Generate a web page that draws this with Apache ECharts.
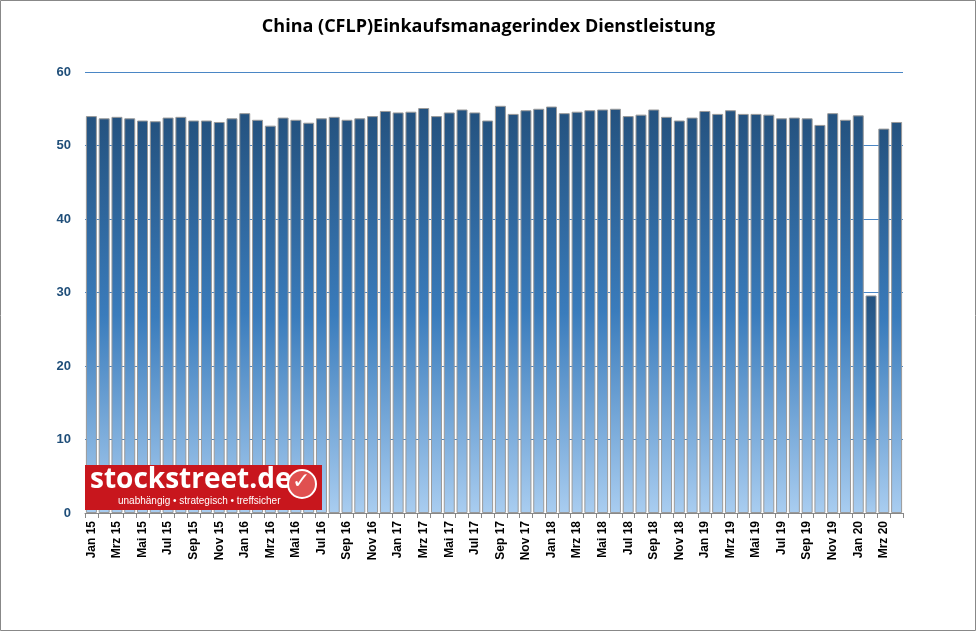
<!DOCTYPE html>
<html><head><meta charset="utf-8">
<script src="https://cdn.jsdelivr.net/npm/echarts@6/dist/echarts.min.js"></script>
<style>html,body{margin:0;padding:0;background:#fff}#c{width:977px;height:632px}</style>
</head><body><div id="c"></div>
<script>
const months = ['Jan','Feb','Mrz','Apr','Mai','Jun','Jul','Aug','Sep','Okt','Nov','Dez'];
const years = ['15','16','17','18','19','20'];
const categories = [];
years.forEach(y => months.forEach(m => categories.push(m + ' ' + y)));
categories.length = 64;
const values = [
  54.0, 53.7, 53.9, 53.7, 53.4, 53.3, 53.8, 53.9, 53.4, 53.4, 53.2, 53.7,
  54.4, 53.5, 52.7, 53.8, 53.5, 53.1, 53.7, 53.9, 53.5, 53.7, 54.0, 54.7,
  54.5, 54.6, 55.1, 54.0, 54.5, 54.9, 54.5, 53.4, 55.4, 54.3, 54.8, 55.0,
  55.3, 54.4, 54.6, 54.8, 54.9, 55.0, 54.0, 54.2, 54.9, 53.9, 53.4, 53.8,
  54.7, 54.3, 54.8, 54.3, 54.3, 54.2, 53.7, 53.8, 53.7, 52.8, 54.4, 53.5,
  54.1, 29.6, 52.3, 53.2
];
const yTicks = [0, 10, 20, 30, 40, 50, 60];

const chart = echarts.init(document.getElementById('c'));
chart.setOption({
  animation: false,
  title: {
    text: 'China (CFLP)Einkaufsmanagerindex Dienstleistung',
    left: 'center', top: 13,
    textStyle: {fontFamily: 'Open Sans', fontSize: 18, fontWeight: 'bold', color: '#000'}
  },
  grid: {left: 85, right: 74, top: 72, bottom: 119},
  xAxis: {
    type: 'category', data: categories,
    axisLine: {lineStyle: {color: '#888'}},
    axisTick: {show: true, interval: 0, lineStyle: {color: '#888'}},
    axisLabel: {
      rotate: 90, interval: 1, fontFamily: 'Liberation Sans', fontSize: 12,
      fontWeight: 'bold', color: '#000'
    }
  },
  yAxis: {
    type: 'value', min: yTicks[0], max: yTicks[yTicks.length - 1], interval: 10,
    axisLine: {show: false}, axisTick: {show: false},
    axisLabel: {fontFamily: 'Liberation Sans', fontSize: 13, fontWeight: 'bold', color: '#1f4e79', margin: 14},
    splitLine: {lineStyle: {color: '#4a86c5', width: 1}}
  },
  series: [{
    type: 'bar', data: values, barCategoryGap: '14%',
    itemStyle: {
      borderColor: '#9a9a9a', borderWidth: 1,
      color: new echarts.graphic.LinearGradient(0, 0, 0, 1, [
        {offset: 0, color: '#24527f'},
        {offset: 0.5, color: '#3a7cbc'},
        {offset: 1, color: '#a9cdf0'}
      ])
    }
  }],
  graphic: [
    {type: 'rect', z: 100, shape: {x: 0.5, y: 0.5, width: 975, height: 630}, style: {fill: 'none', stroke: '#888', lineWidth: 1}},
    {type: 'rect', z: 100, shape: {x: 85, y: 465, width: 237, height: 45}, style: {fill: '#c8161d'}},
    {type: 'text', z: 101, left: 90, top: 466, style: {text: 'stockstreet.de', fill: '#fff', font: 'bold 28px "Open Sans"'}},
    {type: 'text', z: 101, left: 118, top: 496, style: {text: 'unabhängig • strategisch • treffsicher', fill: '#fff', font: '10px "Liberation Sans"'}},
    {type: 'circle', z: 101, shape: {cx: 302, cy: 484, r: 14}, style: {fill: '#e05050', stroke: '#fff', lineWidth: 2}},
    {type: 'text', z: 102, left: 292, top: 471, style: {text: '✓', fill: '#fff', font: 'bold 22px "DejaVu Sans"'}}
  ]
});
</script></body></html>
